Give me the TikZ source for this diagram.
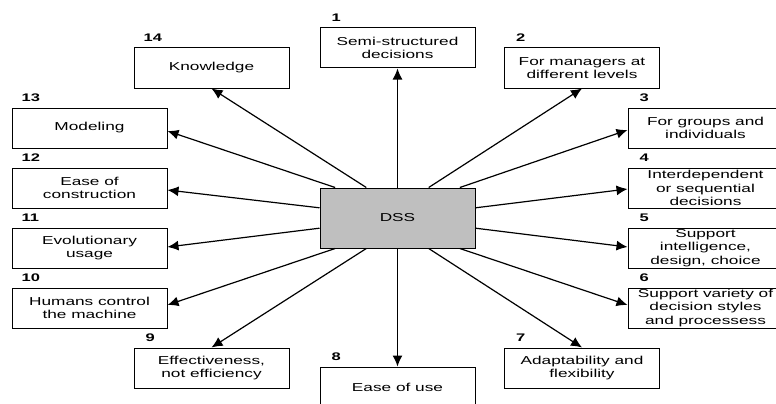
\documentclass[tikz,border=0pt]{standalone}
\usepackage{fontspec}
\setmainfont{Liberation Sans}[FakeStretch=1.5]
\usetikzlibrary{arrows.meta,calc}
\begin{document}
\begin{tikzpicture}[x=1pt,y=-1pt,
  box/.style={draw, line width=1pt, minimum width=155pt, minimum height=40pt,
    inner sep=0pt, align=center, font=\fontsize{11.5}{13.3}\selectfont},
  num/.style={font=\bfseries\fontsize{11}{13}\selectfont, inner sep=0pt, anchor=base west},
  arr/.style={line width=1.2pt, -{Latex[length=11pt,width=10pt]}}]
\useasboundingbox (0,0) rectangle (776,404);
\clip (0,0) rectangle (776,404);
\fill[white] (0,0) rectangle (776,404);
% boxes
\node[box] (b1) at (397.5,48) {Semi-structured\\decisions};
\node[box] (b2) at (582,68) {For managers at\\different levels};
\node[box] (b3) at (705.5,128) {For groups and\\individuals};
\node[box] (b4) at (705.5,188) {Interdependent\\or sequential\\decisions};
\node[box] (b5) at (705.5,248) {Support\\intelligence,\\design, choice};
\node[box] (b6) at (705.5,308) {Support variety of\\decision styles\\and processess};
\node[box] (b7) at (582,368) {Adaptability and\\flexibility};
\node[box] (b8) at (397.5,387) {Ease of use};
\node[box] (b9) at (211.5,368) {Effectiveness,\\not efficiency};
\node[box] (b10) at (89.5,308) {Humans control\\the machine};
\node[box] (b11) at (89.5,248) {Evolutionary\\usage};
\node[box] (b12) at (89.5,188) {Ease of\\construction};
\node[box] (b13) at (89.5,128) {Modeling};
\node[box] (b14) at (211.5,68) {Knowledge};
\node[box, fill=gray!50, minimum height=60pt] (dss) at (397.5,218) {DSS};
% numbers
\node[num] (n1) at ($(b1.north west)+(12,-6)$) {1};
\node[num] (n2) at ($(b2.north west)+(12,-6)$) {2};
\node[num] (n3) at ($(b3.north west)+(12,-6)$) {3};
\node[num] (n4) at ($(b4.north west)+(12,-6)$) {4};
\node[num] (n5) at ($(b5.north west)+(12,-6)$) {5};
\node[num] (n6) at ($(b6.north west)+(12,-6)$) {6};
\node[num] (n7) at ($(b7.north west)+(12,-6)$) {7};
\node[num] (n8) at ($(b8.north west)+(12,-6)$) {8};
\node[num] (n9) at ($(b9.north west)+(12,-6)$) {9};
\node[num] (n10) at ($(b10.north west)+(10,-6)$) {10};
\node[num] (n11) at ($(b11.north west)+(10,-6)$) {11};
\node[num] (n12) at ($(b12.north west)+(10,-6)$) {12};
\node[num] (n13) at ($(b13.north west)+(10,-6)$) {13};
\node[num] (n14) at ($(b14.north west)+(10,-6)$) {14};
% connection points on DSS
\coordinate (t1) at ($(dss.north west)!0.1!(dss.north east)$);
\coordinate (t3) at ($(dss.north west)!0.3!(dss.north east)$);
\coordinate (t7) at ($(dss.north west)!0.7!(dss.north east)$);
\coordinate (t9) at ($(dss.north west)!0.9!(dss.north east)$);
\coordinate (s1) at ($(dss.south west)!0.1!(dss.south east)$);
\coordinate (s3) at ($(dss.south west)!0.3!(dss.south east)$);
\coordinate (s7) at ($(dss.south west)!0.7!(dss.south east)$);
\coordinate (s9) at ($(dss.south west)!0.9!(dss.south east)$);
\coordinate (l1) at ($(dss.north west)!0.333!(dss.south west)$);
\coordinate (l2) at ($(dss.north west)!0.667!(dss.south west)$);
\coordinate (r1) at ($(dss.north east)!0.333!(dss.south east)$);
\coordinate (r2) at ($(dss.north east)!0.667!(dss.south east)$);
% arrows
\draw[arr] (dss.north) -- (b1.south);
\draw[arr] (t7) -- (b2.south);
\draw[arr] (t9) -- ([yshift=-2pt]b3.west);
\draw[arr] (r1) -- ([yshift=-1pt]b4.west);
\draw[arr] (r2) -- ([yshift=1pt]b5.west);
\draw[arr] (s9) -- ([yshift=3pt]b6.west);
\draw[arr] (s7) -- (b7.north);
\draw[arr] (dss.south) -- (b8.north);
\draw[arr] (s3) -- (b9.north);
\draw[arr] (s1) -- ([yshift=3pt]b10.east);
\draw[arr] (l2) -- ([yshift=1pt]b11.east);
\draw[arr] (l1) -- ([yshift=-2pt]b12.east);
\draw[arr] (t1) -- ([yshift=-3pt]b13.east);
\draw[arr] (t3) -- (b14.south);
\end{tikzpicture}
\end{document}
